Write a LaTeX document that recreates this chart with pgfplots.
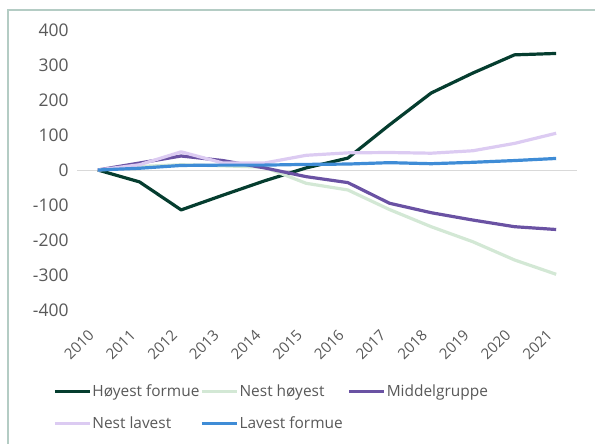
\documentclass[border=0pt]{standalone}
\usepackage{pgfplots}
\pgfplotsset{compat=1.18}
\usepackage{fontspec}
\setmainfont{Open Sans}
\definecolor{cdark}{HTML}{053D2F}
\definecolor{clgreen}{HTML}{D3E8D5}
\definecolor{cpurple}{HTML}{6A52A3}
\definecolor{clilac}{HTML}{DCCBF2}
\definecolor{cblue}{HTML}{3F8CD6}
\definecolor{ctext}{HTML}{595959}
\definecolor{cframe}{HTML}{B4CCC4}
\begin{document}
\begin{tikzpicture}
\useasboundingbox (-77bp,-134bp) rectangle (518bp,310bp);
\draw[cframe, line width=1.2bp] (-69bp,-134bp) -- (-69bp,300bp) -- (518bp,300bp);
\begin{axis}[
  at={(0,0)}, anchor=south west,
  scale only axis, width=500bp, height=280bp,
  xmin=-0.5, xmax=11.5, ymin=-400, ymax=400,
  axis line style={draw=none}, tick style={draw=none},
  xtick={0,...,11},
  xticklabels={2010,2011,2012,2013,2014,2015,2016,2017,2018,2019,2020,2021},
  ytick={-400,-300,...,400},
  /pgf/number format/assume math mode=true,
  yticklabel style={font=\fontsize{17.5}{20}\selectfont, text=ctext, xshift=-5bp},
  xticklabel style={font=\fontsize{15}{18}\selectfont, text=ctext, rotate=45, anchor=east, xshift=-17bp, yshift=-11bp},
  clip=false,
  legend columns=3,
  legend style={draw=none, at={(-0.048,-0.262)}, anchor=north west, inner sep=0pt,
    font=\fontsize{15.5}{18}\selectfont, text=ctext, row sep=17bp,
    nodes={inner sep=1bp},
    /tikz/every even column/.append style={column sep=0bp}},
  legend cell align=left,
  legend image code/.code={\draw[#1, line width=3.2bp] (0bp,0bp) -- (35bp,0bp);},
  every axis plot/.append style={line width=3.2bp, line join=round},
]
\draw[gray!30, line width=0.8bp] (axis cs:-0.5,0) -- (axis cs:11.5,0);
\addplot[cdark, mark=none] coordinates {(0,0) (1,-34) (2,-114) (3,-72) (4,-31) (5,6) (6,34) (7,129) (8,220) (9,277) (10,329) (11,333)};
\addlegendentry{\makebox[107bp][l]{Høyest formue}}
\addplot[clgreen, mark=none] coordinates {(0,0) (1,10) (2,15) (3,12) (4,8) (5,-38) (6,-57) (7,-113) (8,-162) (9,-205) (10,-257) (11,-298)};
\addlegendentry{\makebox[107bp][l]{Nest høyest}}
\addplot[cpurple, mark=none] coordinates {(0,0) (1,20) (2,40) (3,27) (4,6) (5,-19) (6,-36) (7,-95) (8,-122) (9,-143) (10,-162) (11,-170)};
\addlegendentry{\makebox[107bp][l]{Middelgruppe}}
\addplot[clilac, mark=none] coordinates {(0,0) (1,15) (2,52) (3,20) (4,20) (5,42) (6,49) (7,50) (8,48) (9,55) (10,76) (11,105)};
\addlegendentry{\makebox[107bp][l]{Nest lavest}}
\addplot[cblue, mark=none] coordinates {(0,0) (1,5) (2,13) (3,14) (4,14) (5,16) (6,17) (7,21) (8,18) (9,22) (10,27) (11,33)};
\addlegendentry{\makebox[107bp][l]{Lavest formue}}
\end{axis}
\end{tikzpicture}
\end{document}
